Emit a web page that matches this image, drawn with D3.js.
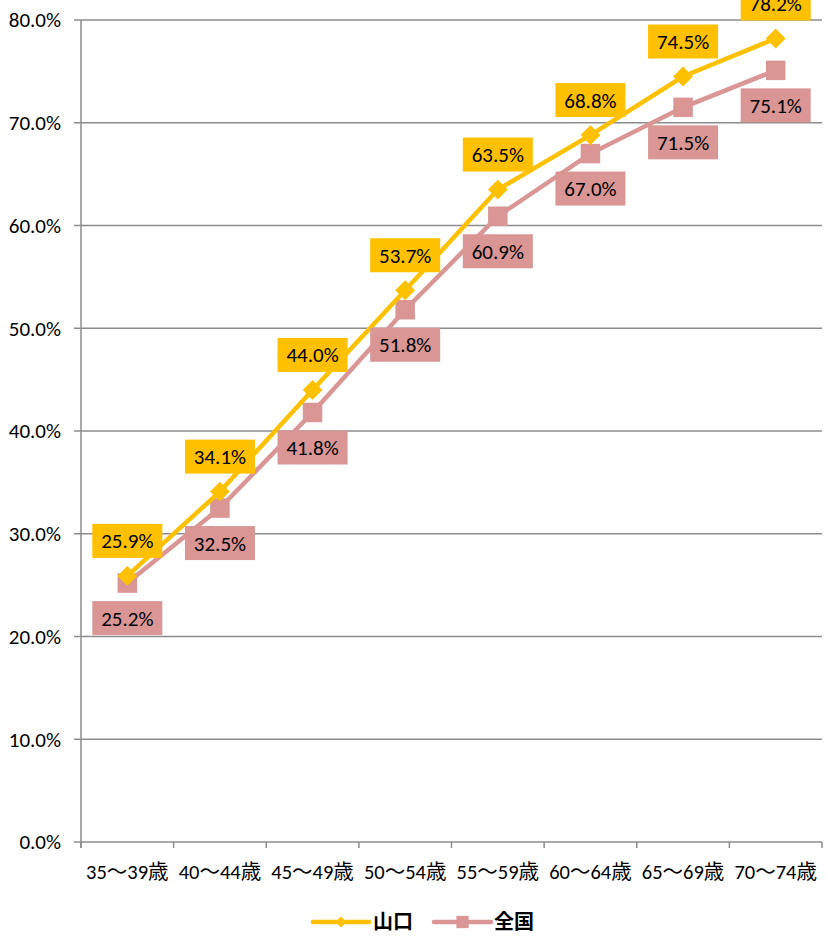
<!DOCTYPE html>
<html><head><meta charset="utf-8">
<script src="https://cdn.jsdelivr.net/npm/d3@7/dist/d3.min.js"></script>
<style>
html,body{margin:0;padding:0;background:#fff;}
text{font-family:Carlito,"Open Sans","Liberation Sans","Noto Sans CJK JP",sans-serif;}
</style></head>
<body>
<svg id="c" width="827" height="938"></svg>
<script>
const categories = ["35〜39歳","40〜44歳","45〜49歳","50〜54歳","55〜59歳","60〜64歳","65〜69歳","70〜74歳"];
const yamaguchi = [25.9,34.1,44.0,53.7,63.5,68.8,74.5,78.2];
const zenkoku = [25.2,32.5,41.8,51.8,60.9,67.0,71.5,75.1];
const yTicks = [0,10,20,30,40,50,60,70,80];
const seriesNames = ["山口","全国"];

const svg = d3.select("#c");
const L=81, R=822, T=20, B=842;
const x = d3.scaleBand().domain(categories).range([L,R]);
const y = d3.scaleLinear().domain([0,80]).range([B,T]);
const gray="#8c8c8c";
const yellow="#FFC000", pink="#D99694";

// gridlines
svg.append("g").selectAll("line").data(yTicks).join("line")
  .attr("x1",74).attr("x2",R).attr("y1",d=>y(d)).attr("y2",d=>y(d))
  .attr("stroke",gray).attr("stroke-width",1.5);
// y axis line
svg.append("line").attr("x1",L).attr("x2",L).attr("y1",T).attr("y2",B+6).attr("stroke",gray).attr("stroke-width",1.5);
// x ticks
const xt = categories.map(c=>x(c)).concat([R]);
svg.append("g").selectAll("line").data(xt).join("line")
  .attr("x1",d=>d).attr("x2",d=>d).attr("y1",B).attr("y2",B+6).attr("stroke",gray).attr("stroke-width",1.5);
// y labels
svg.append("g").selectAll("text").data(yTicks).join("text")
  .attr("x",61).attr("y",d=>y(d)).attr("dy","0.35em").attr("text-anchor","end")
  .attr("font-size",21).attr("fill","#000").text(d=>d.toFixed(1)+"%");
// x labels
svg.append("g").selectAll("text").data(categories).join("text")
  .attr("x",d=>x(d)+x.bandwidth()/2).attr("y",872).attr("dy","0.35em").attr("text-anchor","middle")
  .attr("font-size",20.5).attr("fill","#000").text(d=>d);

const cx = d=>x(d)+x.bandwidth()/2;
const line = d3.line().x(d=>cx(d.c)).y(d=>y(d.v));
const ser = [
  {name:seriesNames[0], vals:yamaguchi, color:yellow, rot:45, size:196, lsize:60, off:-35},
  {name:seriesNames[1], vals:zenkoku, color:pink, rot:0, size:380, lsize:150, off:35}
];
ser.slice().reverse().forEach(s=>{
  const pts = categories.map((c,i)=>({c,v:s.vals[i]}));
  svg.append("path").datum(pts).attr("d",line).attr("fill","none").attr("stroke",s.color).attr("stroke-width",4.5);
  svg.append("g").selectAll("path").data(pts).join("path")
    .attr("transform",d=>`translate(${cx(d.c)},${y(d.v)}) rotate(${s.rot})`)
    .attr("d",d3.symbol().type(d3.symbolSquare).size(s.size)).attr("fill",s.color);
});
ser.forEach(s=>{
  const pts = categories.map((c,i)=>({c,v:s.vals[i]}));
  const g = svg.append("g").selectAll("g").data(pts).join("g")
    .attr("transform",d=>`translate(${cx(d.c)},${y(d.v)+s.off})`);
  g.append("rect").attr("x",-35).attr("y",-17).attr("width",70).attr("height",34).attr("fill",s.color);
  g.append("text").attr("text-anchor","middle").attr("dy","0.36em").attr("font-size",21).attr("fill","#000")
    .text(d=>d.v.toFixed(1)+"%");
});

// legend
const leg = [{x1:313,x2:369,tx:373},{x1:434,x2:491,tx:494}];
ser.forEach((s,i)=>{
  const l=leg[i], ly=922;
  svg.append("line").attr("x1",l.x1).attr("x2",l.x2).attr("y1",ly).attr("y2",ly)
    .attr("stroke",s.color).attr("stroke-width",4.5).attr("stroke-linecap","round");
  svg.append("path").attr("transform",`translate(${(l.x1+l.x2)/2},${ly}) rotate(${s.rot})`)
    .attr("d",d3.symbol().type(d3.symbolSquare).size(s.lsize)).attr("fill",s.color);
  svg.append("text").attr("x",l.tx).attr("y",ly).attr("dy","0.35em").attr("font-size",20)
    .attr("font-weight","bold").attr("fill","#000").text(s.name);
});
</script>
</body></html>
